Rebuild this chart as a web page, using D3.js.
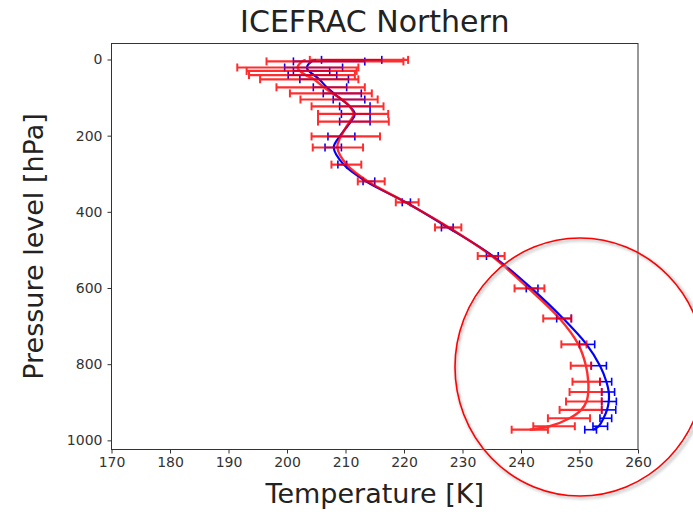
<!DOCTYPE html>
<html>
<head>
<meta charset="utf-8">
<script src="https://cdn.jsdelivr.net/npm/d3@7"></script>
<style>
  html, body { margin: 0; padding: 0; background: #fff; }
  svg { display: block; font-family: "DejaVu Sans", sans-serif; }
</style>
</head>
<body>
<div id="chart"></div>
<script>
// ---- data ----
const title = "ICEFRAC Northern";
const xLabel = "Temperature [K]";
const yLabel = "Pressure level [hPa]";
const xTicks = [170, 180, 190, 200, 210, 220, 230, 240, 250, 260];
const yTicks = [0, 200, 400, 600, 800, 1000];

const levels = [1, 5, 21, 30, 41, 52, 73, 89, 105, 123, 143, 163, 202, 231, 276, 320, 375, 441, 516, 601, 680, 748, 804, 846, 873, 898, 920, 942, 963, 972];

const redLine = [203.2, 202.6, 201.8, 202.2, 203.2, 204.6, 206.3, 207.8, 209.4, 210.7, 211.4, 210.7, 209.2, 208.6, 210.2, 213.8, 220.3, 227.7, 235.0, 241.3, 246.6, 249.8, 251.1, 251.5, 251.5, 251.2, 250.3, 248.3, 244.9, 241.5];
const redLo = [203.9, 196.5, 191.5, 193.1, 193.5, 195.4, 198.2, 200.5, 202.3, 204.2, 205.3, 205.3, 204.2, 204.4, 207.6, 212.1, 218.6, 225.3, 232.6, 238.9, 243.8, 246.9, 248.5, 248.8, 248.3, 247.7, 246.6, 244.6, 242.1, 238.4];
const redHi = [220.7, 219.9, 212.2, 211.9, 211.6, 212.2, 213.3, 214.5, 215.5, 216.5, 217.3, 217.4, 215.9, 213.0, 212.7, 216.7, 222.5, 229.8, 237.2, 244.0, 248.6, 251.2, 252.0, 253.5, 253.8, 253.8, 253.8, 251.8, 249.2, 244.6];

const blueLine = [205.0, 204.2, 203.4, 203.7, 204.6, 205.5, 206.8, 208.0, 209.3, 210.7, 211.6, 210.9, 209.0, 208.0, 209.7, 213.5, 220.3, 227.5, 235.2, 241.8, 247.2, 251.2, 253.5, 254.6, 255.0, 255.0, 254.7, 254.1, 253.3, 252.3];
const blueLo = [205.9, 201.1, 199.6, 201.1, 200.2, 202.2, 204.5, 206.2, 207.9, 209.0, 209.3, 209.0, 207.0, 206.5, 208.7, 213.0, 219.7, 226.4, 234.1, 240.9, 246.1, 250.0, 252.0, 253.5, 253.8, 253.8, 253.8, 253.5, 252.3, 250.9];
const blueHi = [216.2, 213.3, 209.5, 207.3, 208.5, 210.5, 210.2, 212.7, 213.3, 214.2, 214.2, 214.2, 211.6, 209.3, 210.2, 215.0, 221.1, 228.4, 236.1, 242.9, 248.6, 252.6, 254.6, 255.5, 256.0, 256.3, 256.2, 255.5, 254.8, 252.9];

// ---- layout ----
const W = 693, H = 512;
const plot = { left: 111.5, right: 638, top: 43.5, bottom: 449.5 };

const svg = d3.select("#chart").append("svg").attr("width", W).attr("height", H);

const x = d3.scaleLinear().domain([170, 260]).range([plot.left, plot.right]);
const y = d3.scaleLinear().domain([-42, 1024]).range([plot.top, plot.bottom]);

// title
svg.append("text").attr("x", (plot.left + plot.right) / 2).attr("y", 32)
  .attr("text-anchor", "middle").attr("font-size", 30).attr("fill", "#222").text(title);

// axes
const axColor = "#333";
const gx = svg.append("g").attr("transform", `translate(0,${plot.bottom})`)
  .call(d3.axisBottom(x).tickValues(xTicks).tickSize(4).tickPadding(4).tickFormat(d3.format("d")));
const gy = svg.append("g").attr("transform", `translate(${plot.left},0)`)
  .call(d3.axisLeft(y).tickValues(yTicks).tickSize(4).tickPadding(5).tickFormat(d3.format("d")));
[gx, gy].forEach(g => {
  g.select(".domain").remove();
  g.selectAll(".tick line").attr("stroke", axColor);
  g.selectAll(".tick text").attr("font-size", 14).attr("fill", "#333").attr("font-family", "DejaVu Sans, sans-serif");
});

// data layers
const layer = svg.append("g");
const cap = 4;

function drawSeries(color, lo, hi, line, opts) {
  const g = layer.append("g").attr("opacity", opts.opacity);
  const bars = levels.map((p, i) => ({ p, lo: lo[i], hi: hi[i] }));
  g.selectAll("line.bar").data(bars).enter().append("line")
    .attr("x1", d => x(d.lo)).attr("x2", d => x(d.hi))
    .attr("y1", d => y(d.p)).attr("y2", d => y(d.p))
    .attr("stroke", color).attr("stroke-width", opts.bw);
  g.selectAll("line.capl").data(bars).enter().append("line")
    .attr("x1", d => x(d.lo)).attr("x2", d => x(d.lo))
    .attr("y1", d => y(d.p) - cap).attr("y2", d => y(d.p) + cap)
    .attr("stroke", color).attr("stroke-width", opts.cw);
  g.selectAll("line.caph").data(bars).enter().append("line")
    .attr("x1", d => x(d.hi)).attr("x2", d => x(d.hi))
    .attr("y1", d => y(d.p) - cap).attr("y2", d => y(d.p) + cap)
    .attr("stroke", color).attr("stroke-width", opts.cw);
  const pts = levels.map((p, i) => [line[i], p]);
  const gen = d3.line().x(d => x(d[0])).y(d => y(d[1])).curve(d3.curveCatmullRom.alpha(0.5));
  g.append("path").attr("d", gen(pts)).attr("fill", "none")
    .attr("stroke", color).attr("stroke-width", opts.lw);
}

drawSeries("#0000ff", blueLo, blueHi, blueLine, { opacity: 1, bw: 1.6, cw: 1.6, lw: 2.2 });
drawSeries("#ff0000", redLo, redHi, redLine, { opacity: 0.82, bw: 2.2, cw: 2, lw: 2.4 });

// frame (spines)
svg.append("rect").attr("x", plot.left).attr("y", plot.top)
  .attr("width", plot.right - plot.left).attr("height", plot.bottom - plot.top)
  .attr("fill", "none").attr("stroke", axColor).attr("stroke-width", 1);

// axis labels
svg.append("text").attr("x", (plot.left + plot.right) / 2).attr("y", 503)
  .attr("text-anchor", "middle").attr("font-size", 27).attr("fill", "#222").text(xLabel);
svg.append("text").attr("transform", `translate(43,${(plot.top + plot.bottom) / 2}) rotate(-90)`)
  .attr("text-anchor", "middle").attr("font-size", 27).attr("fill", "#222").text(yLabel);

// red circle annotation
const defs = svg.append("defs");
defs.append("filter").attr("id", "sh").attr("x", "-10%").attr("y", "-10%").attr("width", "120%").attr("height", "120%")
  .append("feGaussianBlur").attr("stdDeviation", 1.5);
svg.append("ellipse").attr("cx", 582).attr("cy", 369).attr("rx", 126).attr("ry", 129)
  .attr("fill", "none").attr("stroke", "#bbb").attr("stroke-width", 2).attr("filter", "url(#sh)");
svg.append("ellipse").attr("cx", 580).attr("cy", 367).attr("rx", 125).attr("ry", 129)
  .attr("fill", "none").attr("stroke", "#ff0000").attr("stroke-width", 1.6);
</script>
</body>
</html>
